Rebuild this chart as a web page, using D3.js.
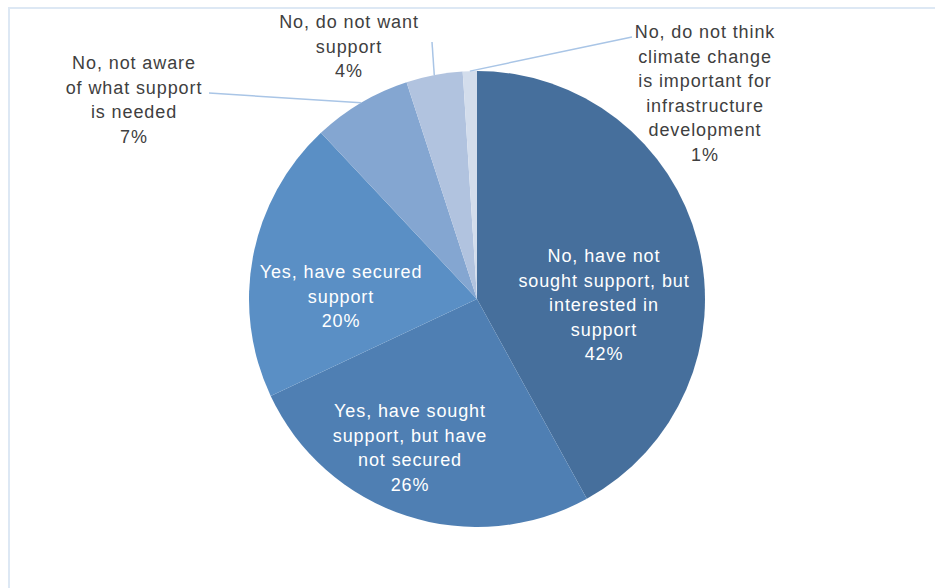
<!DOCTYPE html>
<meta charset="UTF-8">
<style>
    body { margin: 0; background: #fff; }
    .label text {
        font: 18px "Liberation Sans", Arial, sans-serif;
        letter-spacing: 0.9px;
    }
    .leader {
        fill: none;
        stroke: #a9c5e6;
        stroke-width: 1.5px;
    }
</style>
<body>
<script src="https://cdnjs.cloudflare.com/ajax/libs/d3/7.8.5/d3.min.js"></script>
<script>

// slice data, clockwise from 12 o'clock
var categories = [
    "No, have not sought support, but interested in support",
    "Yes, have sought support, but have not secured",
    "Yes, have secured support",
    "No, not aware of what support is needed",
    "No, do not want support",
    "No, do not think climate change is important for infrastructure development"
];
var values = [42, 26, 20, 7, 4, 1];

// label text broken into lines as shown on the chart
var labelLines = [
    ["No, have not", "sought support, but", "interested in", "support"],
    ["Yes, have sought", "support, but have", "not secured"],
    ["Yes, have secured", "support"],
    ["No, not aware", "of what support", "is needed"],
    ["No, do not want", "support"],
    ["No, do not think", "climate change", "is important for", "infrastructure", "development"]
];

var colors = ["#466f9c", "#4f7fb3", "#5a8fc5", "#84a6d1", "#b1c3df", "#d3ddec"];

// label anchor (centre x, first line centre y), inside = white text
var labelPos = [
    {x: 604, y: 256, inside: true},
    {x: 410, y: 411, inside: true},
    {x: 341, y: 272, inside: true},
    {x: 134, y: 63, inside: false, lead: [209, 93]},
    {x: 349, y: 22, inside: false, lead: [432, 42]},
    {x: 705, y: 32, inside: false, lead: [632, 37]}
];

var width = 935, height = 588,
    cx = 477, cy = 299, radius = 228, lineH = 24.5;

var svg = d3.select("body").append("svg")
    .attr("width", width)
    .attr("height", height);

// light frame
svg.append("rect")
    .attr("x", 9).attr("y", 8)
    .attr("width", width + 20).attr("height", height + 20)
    .attr("fill", "none")
    .attr("stroke", "#dde8f4")
    .attr("stroke-width", 2);

var pie = d3.pie().sort(null).value(function(d) { return d; });
var arcs = pie(values);

var arc = d3.arc().innerRadius(0).outerRadius(radius);

var g = svg.append("g")
    .attr("transform", "translate(" + cx + "," + cy + ")");

g.selectAll("path.slice")
    .data(arcs)
    .enter().append("path")
    .attr("class", "slice")
    .attr("d", arc)
    .attr("fill", function(d, i) { return colors[i]; });

// leader lines from outside labels to slice edge midpoints
arcs.forEach(function(d, i) {
    var p = labelPos[i];
    if (p.inside) return;
    var a = (d.startAngle + d.endAngle) / 2;
    var ex = cx + radius * Math.sin(a),
        ey = cy - radius * Math.cos(a);
    svg.append("path")
        .attr("class", "leader")
        .attr("d", "M" + p.lead[0] + "," + p.lead[1] + "L" + ex + "," + ey);
});

// labels
var lab = svg.append("g").attr("class", "label");
arcs.forEach(function(d, i) {
    var p = labelPos[i];
    var lines = labelLines[i].concat([d.data + "%"]);
    var t = lab.append("text")
        .attr("text-anchor", "middle")
        .attr("fill", p.inside ? "#ffffff" : "#404040");
    lines.forEach(function(s, k) {
        t.append("tspan")
            .attr("x", p.x)
            .attr("y", p.y + k * lineH)
            .attr("dy", "0.35em")
            .text(s);
    });
});

</script>
</body>
